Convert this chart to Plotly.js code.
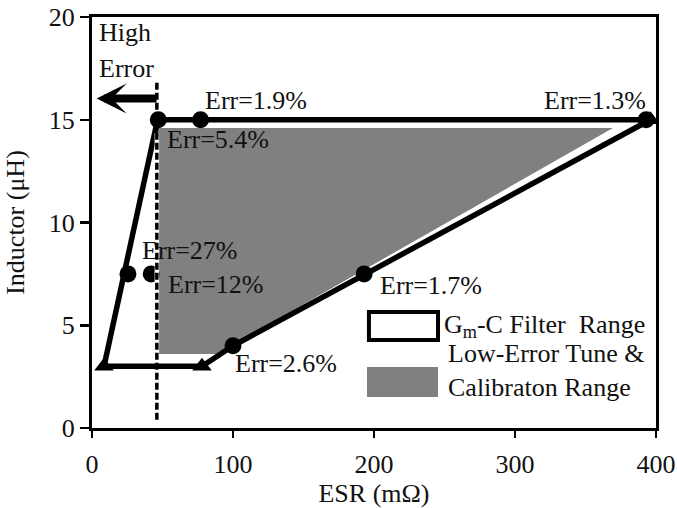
<!DOCTYPE html>
<html>
<head>
<meta charset="utf-8">
<script src="https://cdn.plot.ly/plotly-3.0.1.min.js"></script>
<style>
  html, body { margin: 0; padding: 0; background: #fff; }
  #chart { width: 677px; height: 508px; }
</style>
</head>
<body>
<div id="chart"></div>
<script>
// ---------- data ----------
const gmcRangeX = [8.5, 46.5, 396, 193, 100, 78, 8.5];
const gmcRangeY = [3, 15, 15, 7.5, 4, 3, 3];
const lowErrX = [46, 369.5, 88, 46];
const lowErrY = [14.6, 14.6, 3.6, 3.6];
const circleX = [77, 393, 193, 100, 25.5, 42];
const circleY = [15, 15, 7.5, 4, 7.5, 7.5];
const triangleX = [8.5, 78, 396];
const triangleY = [3, 3, 15];
const cornerCircleX = [47];
const cornerCircleY = [15];
const boundaryESR = 46;
const boundaryY = [0.4, 16.9];
const errLabels = ['Err=1.9%', 'Err=1.3%', 'Err=5.4%', 'Err=27%', 'Err=12%', 'Err=2.6%', 'Err=1.7%'];
const xTicks = [0, 100, 200, 300, 400];
const yTicks = [0, 5, 10, 15, 20];

// ---------- layout helpers (positions / styles) ----------
const errLabelPos = [
  [78.7, 15.96], [318.9, 15.96], [51.8, 14.06], [34, 8.64],
  [52.5, 7.0], [100, 3.16], [202.8, 6.93]
];
const FONT = "'Liberation Serif', 'Times New Roman', Times, serif";
const TXT = '#111';
const MS = 17;

const traces = [
  { x: lowErrX, y: lowErrY, mode: 'lines', fill: 'toself', fillcolor: '#808080',
    line: { width: 0, color: '#808080' }, hoverinfo: 'skip' },
  { x: gmcRangeX, y: gmcRangeY, mode: 'lines', line: { color: '#000', width: 5.5 }, hoverinfo: 'skip' },
  { x: circleX, y: circleY, mode: 'markers', marker: { symbol: 'circle', size: MS, color: '#000' } },
  { x: triangleX, y: triangleY, mode: 'markers', marker: { symbol: 'triangle-up', size: MS, color: '#000' } },
  { x: [boundaryESR, boundaryESR], y: [lowErrY[2], lowErrY[0] - 0.25], mode: 'lines',
    line: { color: '#fff', width: 4.5 }, hoverinfo: 'skip' },
  { x: [boundaryESR, boundaryESR], y: boundaryY, mode: 'lines',
    line: { color: '#000', width: 3.5, dash: '7px,3px' }, hoverinfo: 'skip' },
  { x: cornerCircleX, y: cornerCircleY, mode: 'markers', marker: { symbol: 'circle', size: MS, color: '#000' } }
];

const annotations = errLabels.map((t, i) => ({
  x: errLabelPos[i][0], y: errLabelPos[i][1], xref: 'x', yref: 'y',
  text: t, showarrow: false, xanchor: 'left', yanchor: 'middle',
  font: { family: FONT, size: 26, color: TXT }
}));

annotations.push(
  { x: 3.5, y: 19.27, xref: 'x', yref: 'y', text: 'High', showarrow: false,
    xanchor: 'left', yanchor: 'middle', font: { family: FONT, size: 26, color: TXT } },
  { x: 3.5, y: 17.5, xref: 'x', yref: 'y', text: 'Error', showarrow: false,
    xanchor: 'left', yanchor: 'middle', font: { family: FONT, size: 26, color: TXT } },
  { x: 3.3, y: 16.03, ax: 46.8, ay: 16.03, xref: 'x', yref: 'y', axref: 'x', ayref: 'y',
    text: '', showarrow: true, arrowhead: 3, arrowwidth: 8, arrowsize: 0.625, arrowcolor: '#000' },
  { x: 0.6206, y: 0.2475, xref: 'paper', yref: 'paper', text: 'G<sub>m</sub>-C Filter&#160; Range',
    showarrow: false, xanchor: 'left', yanchor: 'middle', font: { family: FONT, size: 26, color: TXT } },
  { x: 0.6277, y: 0.1815, xref: 'paper', yref: 'paper', text: 'Low-Error Tune &amp;',
    showarrow: false, xanchor: 'left', yanchor: 'middle', font: { family: FONT, size: 26, color: TXT } },
  { x: 0.6277, y: 0.0985, xref: 'paper', yref: 'paper', text: 'Calibraton Range',
    showarrow: false, xanchor: 'left', yanchor: 'middle', font: { family: FONT, size: 26, color: TXT } }
);

const shapes = [
  { type: 'rect', xref: 'paper', yref: 'paper', x0: 0.491, x1: 0.6135, y0: 0.2141, y1: 0.2822,
    line: { color: '#000', width: 4 }, fillcolor: '#fff' },
  { type: 'rect', xref: 'paper', yref: 'paper', x0: 0.4876, x1: 0.6135, y0: 0.0754, y1: 0.1484,
    line: { width: 0 }, fillcolor: '#808080' }
];

const axisCommon = {
  showgrid: false, zeroline: false, showline: true, linecolor: '#000', linewidth: 3,
  mirror: true, ticks: 'outside', tickcolor: '#000', tickwidth: 2.5,
  tickfont: { family: FONT, size: 26, color: TXT }
};

const layout = {
  width: 677, height: 508,
  margin: { l: 92, r: 21, t: 17, b: 80 },
  paper_bgcolor: '#fff', plot_bgcolor: '#fff',
  showlegend: false,
  xaxis: Object.assign({}, axisCommon, {
    range: [0, 400], tickvals: xTicks, ticklen: 7, ticklabelstandoff: 4,
    title: { text: 'ESR (mΩ)', font: { family: FONT, size: 26, color: TXT }, standoff: 9 }
  }),
  yaxis: Object.assign({}, axisCommon, {
    range: [0, 20], tickvals: yTicks, ticklen: 9,
    title: { text: 'Inductor (μH)', font: { family: FONT, size: 26, color: TXT }, standoff: 17 }
  }),
  annotations: annotations,
  shapes: shapes
};

Plotly.newPlot('chart', traces, layout, { staticPlot: true, displayModeBar: false });
</script>
</body>
</html>
